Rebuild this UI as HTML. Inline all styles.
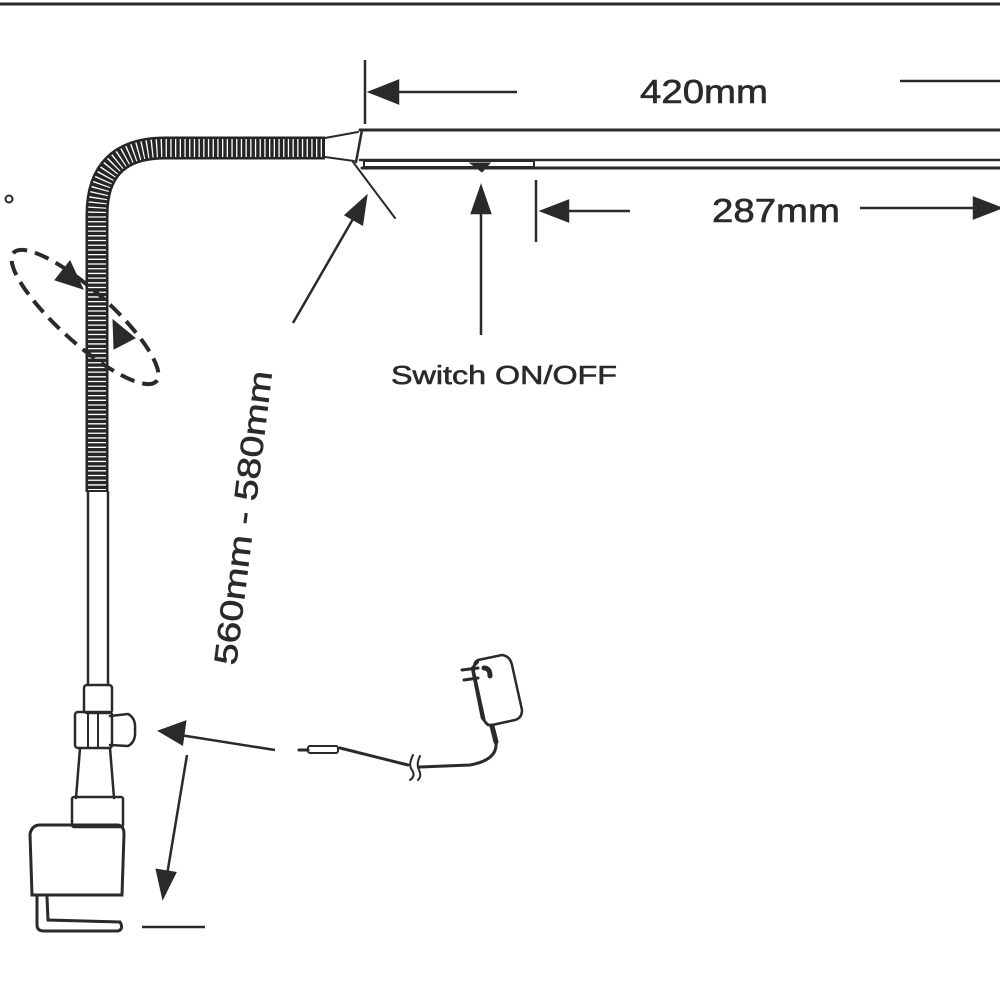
<!DOCTYPE html>
<html><head><meta charset="utf-8"><style>html,body{margin:0;padding:0;background:#fff}svg{display:block}</style></head>
<body>
<svg width="1000" height="1000" viewBox="0 0 1000 1000" xmlns="http://www.w3.org/2000/svg">
<g stroke="#2a2a2a" fill="none" stroke-linecap="round">
<line x1="0" y1="4" x2="1000" y2="4" stroke-width="3"/>
<line x1="360" y1="130" x2="1000" y2="130" stroke-width="3"/>
<line x1="360" y1="160" x2="1000" y2="160" stroke-width="2.5"/>
<line x1="362" y1="168" x2="1000" y2="168" stroke-width="3"/>
<path d="M362 130 L356 162" stroke-width="2.5"/>
<rect x="364" y="161" width="170" height="6" stroke-width="2"/>
<path d="M470 163 L490 163 L482 172 Z" fill="#2a2a2a" stroke-width="1"/>
<path d="M325 138 L358 132 M325 157 L354 161" stroke-width="2"/>
<line x1="353" y1="162" x2="395" y2="218" stroke-width="2"/>
<path d="M325 148 L165 148 Q97 148 97 215 L97 492" stroke-width="23" stroke="#262626" stroke-linecap="butt"/>
<path d="M322 148 L165 148 Q97 148 97 215 L97 490" stroke-width="18" stroke="#fff" stroke-dasharray="1.3 3.4" stroke-linecap="butt"/>
<path d="M88 492 L88 685 M108 492 L108 685" stroke-width="2.5"/>
<rect x="84" y="685" width="28" height="28" rx="3" stroke-width="2.5"/>
<rect x="75" y="712" width="37" height="36" rx="3" stroke-width="2.5"/>
<path d="M88 712 L88 748 M98 712 L98 748" stroke-width="2"/>
<path d="M110 716 L128 714 Q136 718 135 730 Q136 742 128 746 L110 745" stroke-width="2.5"/>
<path d="M80 748 L76 798 M110 748 L114 798" stroke-width="2.5"/>
<rect x="72" y="797" width="51" height="30" rx="2" stroke-width="2.5"/>
<path d="M40 825 L118 825 Q124 826 124 834 L122 895 L32 895 L30 834 Q32 825 40 825 Z" stroke-width="3"/>
<path d="M37 895 L37 925 Q37 931 44 931 L118 931 Q124 929 120 922 L48 920 L47 897" stroke-width="3"/>
</g>
<g stroke="#2a2a2a" stroke-width="2.5" fill="#2a2a2a">
<line x1="365" y1="60" x2="365" y2="124"/>
<line x1="390" y1="92" x2="517" y2="92"/>
<path d="M370 92 L398 81 L398 103 Z"/>
<line x1="900" y1="81" x2="1000" y2="81"/>
<line x1="536" y1="180" x2="536" y2="242"/>
<line x1="560" y1="211" x2="630" y2="211"/>
<path d="M542 211 L568 201 L568 221 Z"/>
<line x1="860" y1="208" x2="980" y2="208"/>
<path d="M1000 208 L974 198 L974 218 Z"/>
<line x1="481" y1="335" x2="481" y2="200"/>
<path d="M481 187 L472 213 L490 213 Z"/>
<line x1="293" y1="323" x2="357" y2="212"/>
<path d="M366 197 L346 215 L362 224 Z"/>
<line x1="275" y1="750" x2="180" y2="735"/>
<path d="M160 731 L185 722 L182 744 Z"/>
<line x1="187" y1="755" x2="167" y2="875"/>
<path d="M163 897 L157 870 L175 873 Z"/>
<line x1="142" y1="927" x2="205" y2="927"/>
</g>
<g stroke="#2a2a2a" fill="none" stroke-width="4" stroke-dasharray="15 8">
<ellipse cx="85" cy="317" rx="96" ry="26" transform="rotate(42 85 317)"/>
</g>
<g fill="#2a2a2a" stroke="#2a2a2a" stroke-width="1">
<path d="M83 289 L55 280 L70 261 Z"/>
<path d="M113 320 L114 349 L135 338 Z"/>
</g>
<circle cx="9" cy="199" r="3.5" fill="none" stroke="#2a2a2a" stroke-width="2"/>
<g stroke="#2a2a2a" fill="none" stroke-width="2.5" stroke-linecap="round">
<path d="M478 660 L502 655 Q510 656 512 665 L522 710 Q522 718 515 720 L492 725 Q485 726 484 718 L474 672 Q473 662 478 660 Z"/>
<path d="M478 662 L472 668 L482 718 L488 725"/>
<path d="M462 670 L478 668 M464 680 L478 678" stroke-width="3"/>
<path d="M484 668 Q490 668 490 676" stroke-width="5"/>
<path d="M492 726 L496 742" stroke-width="5"/>
<path d="M496 742 Q498 760 470 765 L420 767" stroke-width="3"/>
<path d="M408 765 L340 748" stroke-width="3"/>
<path d="M413 755 Q408 765 412 770 Q416 776 410 780 M420 756 Q416 764 419 770 Q422 776 418 780" stroke-width="2"/>
<rect x="308" y="746" width="30" height="7" rx="2" stroke-width="2"/>
<line x1="299" y1="750" x2="308" y2="750" stroke-width="3"/>
</g>
<g font-family="Liberation Sans, sans-serif" fill="#2a2a2a" stroke="#2a2a2a" stroke-width="0.6">
<text x="640" y="103" font-size="33" textLength="128" lengthAdjust="spacingAndGlyphs">420mm</text>
<text x="712" y="222" font-size="33" textLength="128" lengthAdjust="spacingAndGlyphs">287mm</text>
<text x="391" y="384" font-size="26" textLength="226" lengthAdjust="spacingAndGlyphs">Switch ON/OFF</text>
<text x="0" y="0" font-size="32" textLength="296" lengthAdjust="spacingAndGlyphs" transform="translate(236 666) rotate(-83)">560mm - 580mm</text>
</g>
</svg>
</body></html>
